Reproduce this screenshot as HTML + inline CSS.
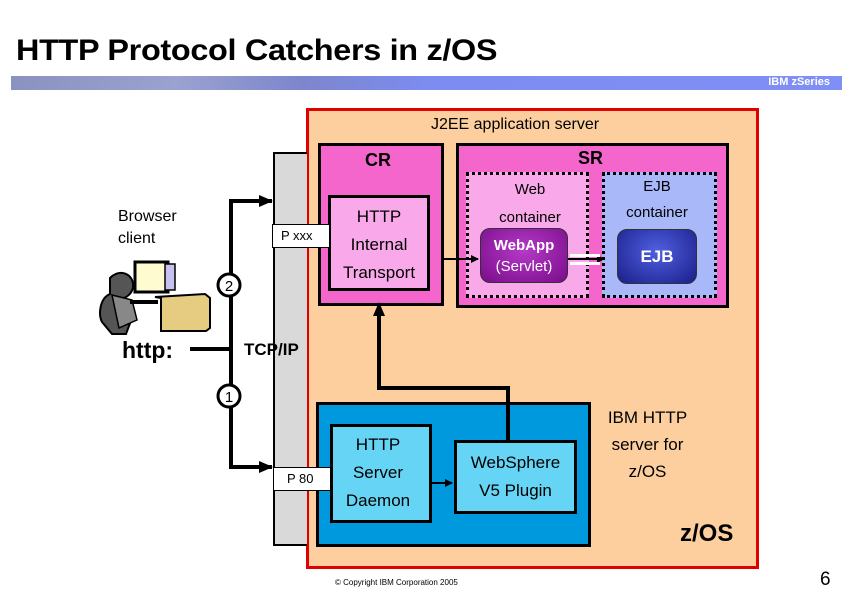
<!DOCTYPE html>
<html><head><style>
body{margin:0;width:842px;height:592px;background:#fff;position:relative;overflow:hidden;font-family:"Liberation Sans",sans-serif;}
.a{position:absolute;box-sizing:border-box;}
.t{position:absolute;white-space:nowrap;}
.c{text-align:center;}
</style></head><body>
<div class="t" style="left:16px;top:34px;font-size:30px;font-weight:bold;letter-spacing:-0.3px;transform:scaleX(1.08);transform-origin:left;">HTTP Protocol Catchers in z/OS</div>
<div class="a" style="left:11px;top:76px;width:831px;height:14px;background:linear-gradient(90deg,#8a93c0 0%,#9aa2d0 20%,#7d86cc 35%,#7c8cf0 50%,#7f8ff5 100%);"></div>
<div class="t" style="right:12px;top:76px;font-size:11px;font-weight:bold;color:#fff;">IBM zSeries</div>

<div class="a" style="left:306px;top:108px;width:453px;height:461px;background:#fdcf9f;border:3px solid #e00000;"></div>
<div class="t c" style="left:400px;top:116px;width:230px;font-size:16px;">J2EE application server</div>

<div class="a" style="left:273px;top:152px;width:34px;height:394px;background:#d9d9d9;border:2px solid #000;border-right:none;"></div>

<div class="a" style="left:318px;top:143px;width:126px;height:163px;background:#f566cc;border:3px solid #000;"></div>
<div class="t c" style="left:318px;top:150px;width:120px;font-size:18px;font-weight:bold;">CR</div>
<div class="a" style="left:328px;top:195px;width:102px;height:96px;background:#f9a9ea;border:3px solid #000;"></div>
<div class="t c" style="left:328px;top:203px;width:102px;font-size:17px;line-height:28px;">HTTP<br>Internal<br>Transport</div>
<div class="a" style="left:272px;top:224px;width:58px;height:24px;background:#fff;border:1px solid #000;"></div>
<div class="t" style="left:281px;top:228px;font-size:13px;">P xxx</div>

<div class="a" style="left:456px;top:143px;width:273px;height:165px;background:#f566cc;border:3px solid #000;"></div>
<div class="t" style="left:578px;top:148px;font-size:18px;font-weight:bold;">SR</div>
<div class="a" style="left:466px;top:172px;width:123px;height:126px;background:#f9a9ea;border:3px dotted #000;"></div>
<div class="t c" style="left:466px;top:176px;width:128px;font-size:15px;line-height:28px;">Web<br>container</div>
<div class="a" style="left:480px;top:228px;width:88px;height:55px;border-radius:10px;background:radial-gradient(ellipse at 50% 40%,#b53ac8,#7a0c8a);border:1px solid #333;"></div>
<div class="t c" style="left:480px;top:235px;width:88px;font-size:15px;line-height:21px;color:#fff;"><b>WebApp</b><br>(Servlet)</div>
<div class="a" style="left:602px;top:172px;width:115px;height:126px;background:#a8b8f8;border:3px dotted #000;"></div>
<div class="t c" style="left:602px;top:174px;width:110px;font-size:15px;line-height:26px;">EJB<br>container</div>
<div class="a" style="left:617px;top:229px;width:80px;height:55px;border-radius:10px;background:radial-gradient(ellipse at 50% 40%,#5060e0,#1a1e8a);border:1px solid #333;"></div>
<div class="t c" style="left:617px;top:247px;width:80px;font-size:17px;font-weight:bold;color:#fff;">EJB</div>

<div class="a" style="left:316px;top:402px;width:275px;height:145px;background:#0099dd;border:3px solid #000;"></div>
<div class="a" style="left:330px;top:424px;width:102px;height:99px;background:#66d4f4;border:3px solid #000;"></div>
<div class="t c" style="left:330px;top:431px;width:96px;font-size:17px;line-height:28px;">HTTP<br>Server<br>Daemon</div>
<div class="a" style="left:454px;top:440px;width:123px;height:74px;background:#66d4f4;border:3px solid #000;"></div>
<div class="t c" style="left:454px;top:449px;width:123px;font-size:17px;line-height:28px;">WebSphere<br>V5 Plugin</div>
<div class="a" style="left:273px;top:467px;width:58px;height:24px;background:#fff;border:1px solid #000;"></div>
<div class="t" style="left:287px;top:471px;font-size:13px;">P 80</div>

<div class="t c" style="left:590px;top:404px;width:115px;font-size:17px;line-height:27px;">IBM HTTP<br>server for<br>z/OS</div>
<div class="t" style="left:680px;top:520px;font-size:24px;font-weight:bold;">z/OS</div>
<div class="t" style="left:244px;top:340px;font-size:17px;font-weight:bold;">TCP/IP</div>
<div class="t" style="left:118px;top:206px;font-size:16px;line-height:22px;">Browser<br>client</div>
<div class="t" style="left:122px;top:337px;font-size:23px;font-weight:bold;">http:</div>
<div class="t" style="left:335px;top:578px;font-size:8px;">© Copyright IBM Corporation 2005</div>
<div class="t" style="left:820px;top:569px;font-size:19px;">6</div>

<svg class="a" style="left:0;top:0" width="842" height="592">
<defs>
<marker id="m" markerWidth="14" markerHeight="12" refX="13" refY="6" orient="auto" markerUnits="userSpaceOnUse"><path d="M0,0L14,6L0,12z"/></marker>
<marker id="s" markerWidth="8" markerHeight="8" refX="7" refY="4" orient="auto" markerUnits="userSpaceOnUse"><path d="M0,0L8,4L0,8z"/></marker></defs>
<g fill="none" stroke="#000" stroke-width="4">
<path d="M262,201H231V467H262"/>
<path d="M190,349H231"/>
<path d="M508,440V388H379V312"/>
</g>
<path d="M260,201H272" stroke="#000" stroke-width="4" marker-end="url(#m)"/>
<path d="M260,467H272" stroke="#000" stroke-width="4" marker-end="url(#m)"/>
<path d="M379,312V303" stroke="#000" stroke-width="4" marker-end="url(#m)"/>
<path d="M443,259H478" stroke="#000" stroke-width="2" marker-end="url(#s)"/>
<path d="M431,483H452" stroke="#000" stroke-width="2" marker-end="url(#s)"/>
<path d="M568,259H604" stroke="#000" stroke-width="2" marker-end="url(#s)"/>
<rect x="570" y="254" width="30" height="3" fill="#fff"/><rect x="570" y="262" width="30" height="3" fill="#fff"/>
<circle cx="229" cy="285" r="11" fill="#fff" stroke="#000" stroke-width="3"/>
<text x="229" y="291" font-size="15" text-anchor="middle" font-family="Liberation Sans">2</text>
<circle cx="229" cy="396" r="11" fill="#fff" stroke="#000" stroke-width="3"/>
<text x="229" y="402" font-size="15" text-anchor="middle" font-family="Liberation Sans">1</text>
<rect x="135" y="262" width="33" height="30" fill="#fffbd0" stroke="#000" stroke-width="3"/>
<rect x="165" y="264" width="10" height="26" fill="#c8c0f0" stroke="#000" stroke-width="1.5"/>
<path d="M155,297l50,-3l5,4v30l-4,3h-45v-33z" fill="#e5cc80" stroke="#000" stroke-width="2"/>
<path d="M110,278c8,-8 18,-6 22,2c4,10 -4,18 -10,18l10,20l-6,16l-14,0l-10,-12c-4,-8 -2,-24 8,-28z" fill="#555" stroke="#000" stroke-width="2"/>
<path d="M112,295l20,5l5,20l-18,8z" fill="#888" stroke="#000" stroke-width="1.5"/>
<rect x="130" y="300" width="28" height="4" fill="#000"/>
</svg>
</body></html>
